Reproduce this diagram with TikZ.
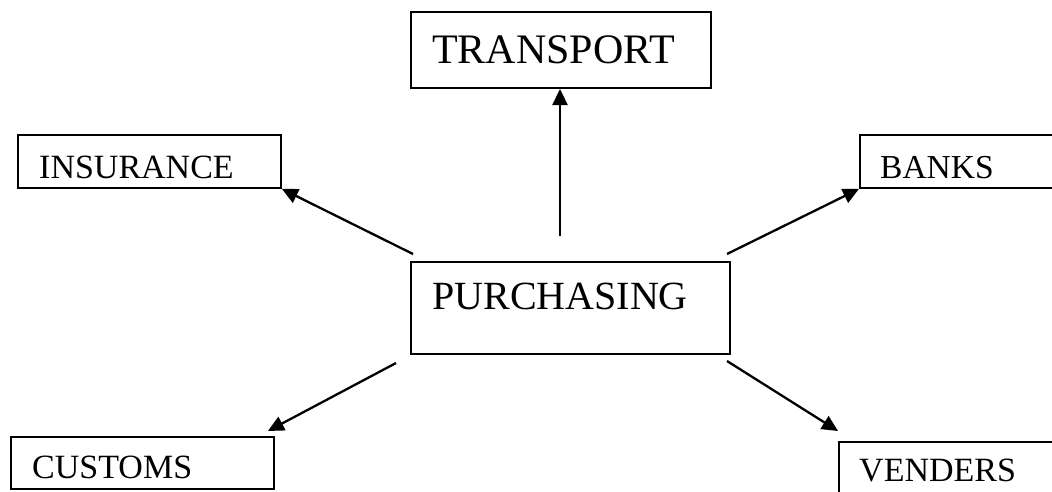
\documentclass[tikz,border=0pt]{standalone}
\usepackage{fontspec}
\setmainfont{Liberation Serif}
\usetikzlibrary{arrows.meta}
\begin{document}
\begin{tikzpicture}[x=1pt,y=1pt,
  box/.style={draw=black, line width=1.9pt, anchor=north west, inner sep=0pt},
  lbl/.style={anchor=base west, inner sep=0pt},
  conn/.style={line width=2.3pt, -{Triangle[length=16pt,width=15pt]}}]
\useasboundingbox (0,0) rectangle (1052,-491);
\clip (0,0) rectangle (1052,-491);
% boxes
\node[box, minimum width=300pt, minimum height=76pt] (transport) at (410,-11) {};
\node[box, minimum width=263pt, minimum height=53pt] (insurance) at (17,-134) {};
\node[box, minimum width=220pt, minimum height=53pt] (banks) at (859,-134) {};
\node[box, minimum width=319pt, minimum height=92pt] (purchasing) at (410,-261) {};
\node[box, minimum width=263pt, minimum height=52pt] (customs) at (10,-436) {};
\node[box, minimum width=240pt, minimum height=80pt] (venders) at (838,-441) {};
% labels
\node[lbl, font=\fontsize{42}{48}\selectfont] (tT) at (432,-63) {TRANSPORT};
\node[lbl, font=\fontsize{34}{40}\selectfont] (tI) at (39,-178) {INSURANCE};
\node[lbl, font=\fontsize{33.5}{40}\selectfont] (tB) at (880,-178) {BANKS};
\node[lbl, font=\fontsize{40}{46}\selectfont] (tP) at (432,-309) {PURCHASING};
\node[lbl, font=\fontsize{34}{40}\selectfont] (tC) at (32,-478) {CUSTOMS};
\node[lbl, font=\fontsize{34}{40}\selectfont] (tV) at (859,-481) {VENDERS};
% connector start points
\coordinate (sT) at (560,-236);
\coordinate (sI) at (413,-254);
\coordinate (sB) at (727,-254);
\coordinate (sC) at (396,-363);
\coordinate (sV) at (727,-361);
\coordinate (eT) at (560,-89);
% connectors
\draw[conn] (sT) -- (eT);
\draw[conn] (sI) -- (insurance.south east);
\draw[conn] (sB) -- (banks.south west);
\draw[conn] (sC) -- ([xshift=-7pt,yshift=5pt]customs.north east);
\draw[conn] (sV) -- ([yshift=10pt]venders.north west);
\end{tikzpicture}
\end{document}
